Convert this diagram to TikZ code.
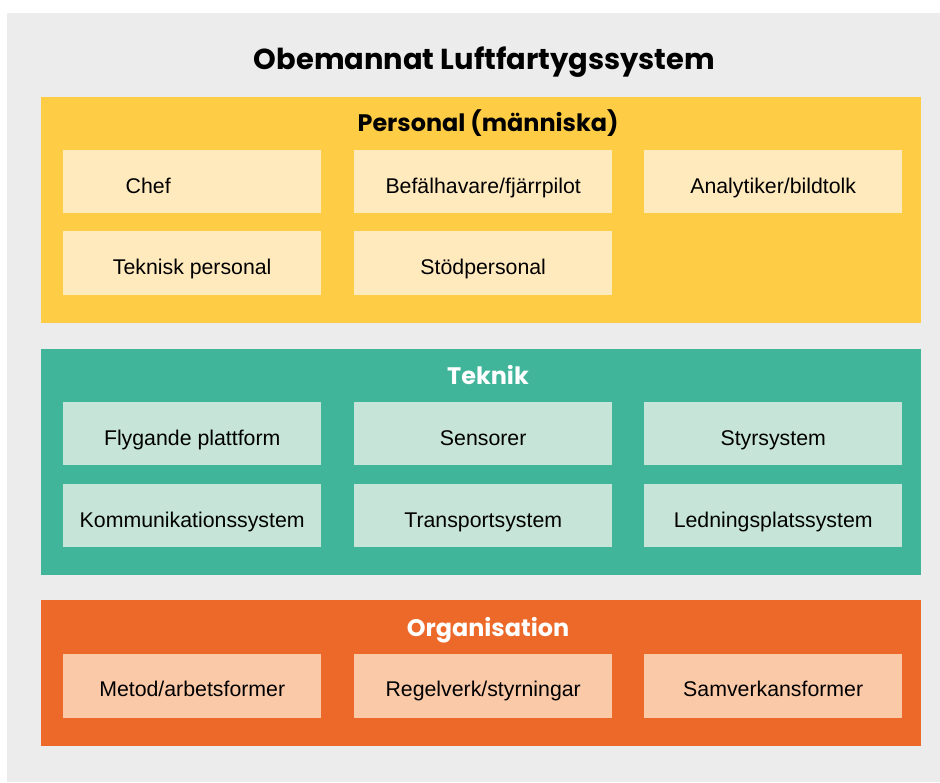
\documentclass[tikz,border=0pt]{standalone}
\usepackage{fontspec}
\setmainfont{Liberation Sans}
\newfontfamily\titlefont{Poppins}
\definecolor{panelgray}{HTML}{ECECEC}
\definecolor{yband}{HTML}{FECD45}
\definecolor{ybox}{HTML}{FFEABD}
\definecolor{tband}{HTML}{40B59A}
\definecolor{tbox}{HTML}{C6E4D8}
\definecolor{oband}{HTML}{EC6929}
\definecolor{obox}{HTML}{FAC9A8}
\begin{document}
\begin{tikzpicture}[x=1pt,y=-1pt,
  band/.style={draw=none,minimum width=880pt,inner sep=0pt,anchor=north west},
  cell/.style={draw=none,minimum width=258pt,minimum height=63pt,inner sep=0pt,anchor=north west,
    font=\fontsize{21.3}{24}\selectfont,text height=23pt,text depth=0pt},
  ycell/.style={cell,fill=ybox},
  tcell/.style={cell,fill=tbox},
  ocell/.style={cell,fill=obox},
  head/.style={font=\titlefont\bfseries\fontsize{23.9}{27}\selectfont,inner sep=0pt,anchor=base},
]
\useasboundingbox (0,0) rectangle (940,782);
\fill[white] (0,0) rectangle (940,782);
\node[draw=none,fill=panelgray,minimum width=933pt,minimum height=769pt,inner sep=0pt,anchor=north west] (panel) at (7,13) {};
\node[font=\titlefont\bfseries\fontsize{28.9}{33}\selectfont,inner sep=0pt,anchor=base] (title) at (484.5,69) {Obemannat Luftfartygssystem};

% Personal
\node[band,fill=yband,minimum height=226pt] (pers) at (41,97) {};
\node[head,text=black] (persh) at (488,131) {Personal (människa)};
\node[ycell,label={[font=\fontsize{21.3}{24}\selectfont,text height=15pt,text depth=0pt,xshift=-44pt,yshift=-4pt]center:Chef}] (chef) at (63,150) {};
\node[ycell] (befal) at (354,150) {Befälhavare/fjärrpilot};
\node[ycell] (anal) at (644,150) {Analytiker/bildtolk};
\node[ycell,minimum height=64pt] (tekp) at (63,231) {Teknisk personal};
\node[ycell,minimum height=64pt] (stod) at (354,231) {Stödpersonal};

% Teknik
\node[band,fill=tband,minimum height=226pt] (tek) at (41,349) {};
\node[head,text=white] (tekh) at (488,384) {Teknik};
\node[tcell] (flyg) at (63,402) {Flygande plattform};
\node[tcell] (sens) at (354,402) {Sensorer};
\node[tcell] (styr) at (644,402) {Styrsystem};
\node[tcell] (komm) at (63,484) {Kommunikationssystem};
\node[tcell] (trans) at (354,484) {Transportsystem};
\node[tcell] (ledn) at (644,484) {Ledningsplatssystem};

% Organisation
\node[band,fill=oband,minimum height=146pt] (org) at (41,600) {};
\node[head,text=white] (orgh) at (488,636) {Organisation};
\node[ocell,minimum height=64pt,text height=21pt] (metod) at (63,654) {Metod/arbetsformer};
\node[ocell,minimum height=64pt,text height=21pt] (regel) at (354,654) {Regelverk/styrningar};
\node[ocell,minimum height=64pt,text height=21pt] (samv) at (644,654) {Samverkansformer};
\end{tikzpicture}
\end{document}
